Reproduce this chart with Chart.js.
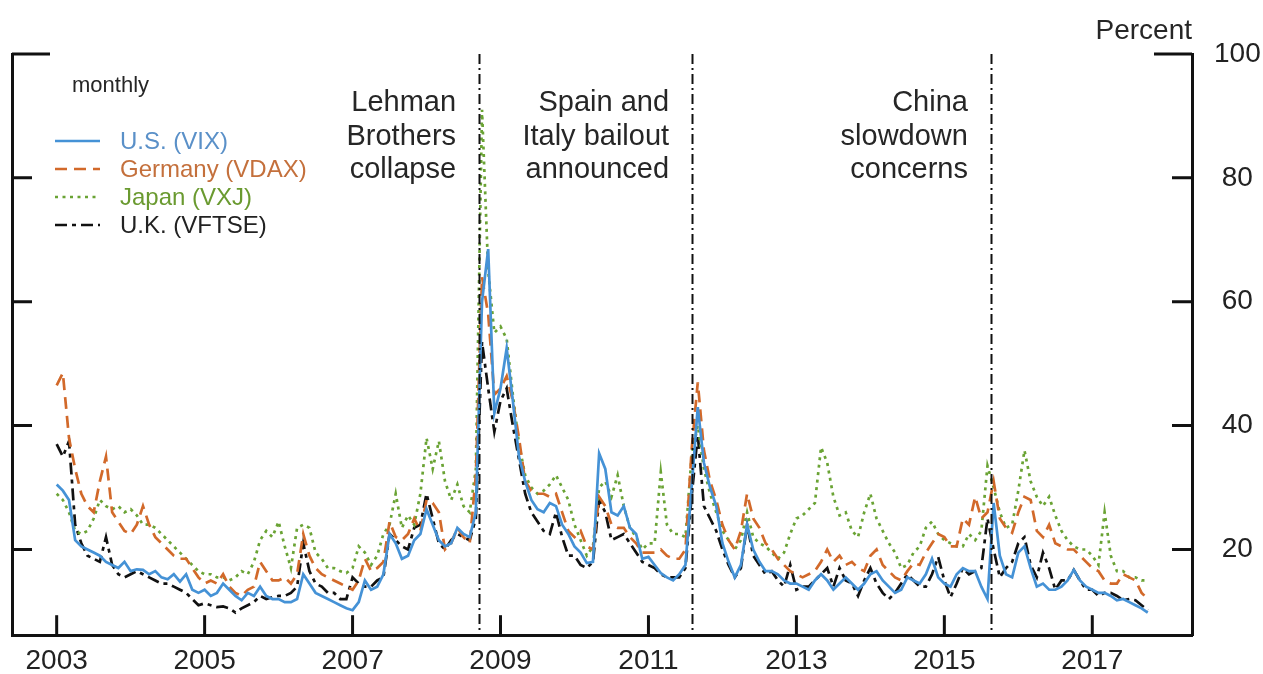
<!DOCTYPE html>
<html>
<head>
<meta charset="utf-8">
<script src="https://cdn.jsdelivr.net/npm/chart.js@4.4.1/dist/chart.umd.min.js"></script>
<style>
  html, body { margin: 0; padding: 0; background: #fff; }
  #wrap { width: 1263px; height: 674px; position: relative; }
</style>
</head>
<body>
<div id="wrap"><canvas id="vol"></canvas></div>
<script>
// monthly implied volatility, Jan 2003 .. Oct 2017
const startYear = 2003;

const us = [
  30.5, 29.5, 28, 21.5, 20.5, 20, 19.5, 19, 18, 17.5, 17, 18,
  16.5, 16.8, 16.7, 16, 16.5, 15.5, 15.2, 16, 14.8, 16, 13.5, 13,
  13.5, 12.5, 13, 14.5, 13.5, 12.5, 11.8, 13, 12.5, 14, 12.5, 12,
  12, 11.5, 11.5, 12, 16, 14.5, 13, 12.5, 12, 11.5, 11, 10.5,
  10.2, 11.5, 15, 13.5, 14, 16, 22.5, 21, 18.5, 19, 21.5, 22.5,
  26.5, 24, 21.5, 20.5, 21, 23.5, 22.5, 22, 26, 60, 68.5, 42,
  46, 52.5, 44, 35, 31, 28, 26.5, 26, 27.5, 27, 24, 22.5,
  20.5, 19.5, 17.8, 18, 35.5, 33, 26, 25.5, 27, 23.5, 22.5, 18.5,
  18.8, 17.5, 16.2, 15.5, 15, 16, 17.5, 30, 43, 34, 30, 27,
  21, 18, 15.5, 17.5, 24, 20, 18, 16.5, 16.5, 16, 15, 14.5,
  14.5, 14, 13.5, 15, 16, 15, 13.5, 14.5, 15.5, 14.5, 13.5, 14.5,
  16, 16.5, 15, 14, 13, 13.5, 15.5, 15, 14.5, 16, 18.5, 15.5,
  14.5, 14, 16, 17, 16.5, 16.5, 14, 12, 27.5, 19, 16, 15.5,
  19.5, 20.5, 17, 14, 14.5, 13.5, 13.5, 14, 15, 16.7, 15, 14,
  13.5, 13, 13, 12.5, 11.8, 12, 11.5, 11, 10.5, 9.8
];

const germany = [
  46.5, 48.5, 38, 33, 29, 27, 26, 31, 35, 26, 24.5, 23,
  22.5, 24, 27, 24, 22, 21, 20, 19, 18.5, 18.5, 17, 15.5,
  14.5, 15, 14.5, 16, 14, 13, 12.5, 13.5, 14, 18, 16.5, 15,
  15, 15.5, 14.5, 16, 22.5, 19, 17, 16, 15.5, 15, 14.5, 14,
  13.5, 15, 18.5, 16.5, 17, 18, 24.5, 22, 21.5, 22.5, 25, 23,
  28, 27.5, 26, 20, 21, 23.5, 22, 21, 32, 64, 58, 45,
  46, 48, 44, 38, 31, 29.5, 29, 29, 28.5, 29, 26, 23,
  22, 23, 20.5, 20, 28.5, 27, 24, 23.5, 23.5, 22, 21, 19.5,
  19.5, 19.5, 20, 19, 18.5, 18.5, 20, 36, 47, 36, 31, 28,
  24, 21.5, 20, 23, 29, 25, 23.5, 21, 20, 18.5, 17.5, 16.5,
  16, 15.5, 16, 16.5, 18, 20, 18, 19, 17.5, 18, 17, 16.5,
  19, 20, 17.5, 16.5, 15.5, 15, 16.5, 17.8, 17.5, 19.5, 21, 22.5,
  22, 20.5, 20.5, 25, 24, 28.5, 25, 26, 31, 25, 23.5, 22.7,
  26, 28.5, 28, 23, 22, 24, 21, 20.5, 20, 20, 19, 18,
  17, 16.5, 15, 14.5, 14.5, 16, 15.5, 15, 13, 12
];

const japan = [
  29, 28, 26, 23, 22.5, 23, 25, 28, 27, 26.5, 27, 26,
  26.5, 25.5, 24, 24, 23.5, 22.5, 21.5, 20.5, 19.5, 18.5, 17.5, 16.5,
  16, 16, 15.5, 15.5, 15, 15.5, 16.5, 16, 18, 21.5, 23, 22,
  24.5, 20.5, 17, 23.5, 24, 23.5, 19.5, 18.5, 17, 17, 16.5, 16.2,
  17, 20.5, 19.5, 17.5, 19, 22.5, 24, 29, 23.5, 25.5, 24, 29,
  38, 33, 37.5, 31, 28, 30.5, 27, 26, 33, 91, 65, 55,
  56, 54, 45, 37, 32, 30, 29, 29.5, 30.5, 32, 30, 28,
  24, 21.5, 19, 20.5, 30, 31, 28.5, 32, 27, 23.5, 22, 20,
  21, 21, 32.5, 24, 22.5, 22.5, 22, 35, 40, 33, 29, 26,
  23, 21.5, 20, 21.5, 26, 22, 21, 20.5, 19.5, 18.5, 19.5, 22.5,
  25, 25.5, 26.5, 27.5, 36.5, 34, 28.5, 25.5, 26, 23, 22, 26,
  29, 25, 23, 21, 19.5, 17, 17.5, 19.5, 20.5, 23.5, 24.5, 22.5,
  21.5, 21, 20.5, 20.5, 22.5, 21.5, 23, 33.5, 30, 26, 23.5, 24,
  29.5, 36, 31, 28.5, 27, 28.5, 25.5, 23, 21.5, 20.5, 20, 20,
  19, 17.5, 26, 19, 16.5, 16.5, 15.5, 15.5, 15, 15
];

const uk = [
  37, 35, 37.5, 24, 21, 19, 18.5, 18, 22, 17.5, 16, 15.5,
  16, 16.5, 16, 15.5, 15, 14.5, 14.5, 14, 13.5, 13, 12, 11,
  11.3, 11, 10.7, 10.8, 10.5, 9.8, 10.5, 11, 11.5, 12.5, 12, 12.3,
  12.5, 12.5, 13, 14, 21, 16.5, 14.5, 14, 13, 13, 12, 12,
  15.5, 14.5, 14, 14, 15, 15.5, 22.5, 21.5, 20.5, 20, 23.5, 24,
  29, 25, 21, 20, 21.5, 22.5, 22, 21.5, 25, 53.5, 46, 39,
  44, 46, 40, 34.5, 29, 26, 24.5, 23, 22.5, 26, 22, 19,
  19, 17.5, 17, 18, 28, 26, 21.5, 22, 22.5, 21, 19.5, 18,
  17.5, 17, 16, 15.5, 15.5, 15.5, 17, 28.5, 38.5, 27, 25, 23,
  20, 17.5, 15.5, 17, 24, 19, 17.5, 16, 16.5, 15, 14, 17.5,
  13.5, 14, 14, 15, 16, 17, 14, 17, 15, 14.5, 12.5, 15,
  17, 14.5, 13, 12, 13, 14.5, 16, 15, 14, 14, 16, 18.8,
  15, 12.3, 14.5, 17, 16, 16.5, 17, 25, 20, 15.5, 17, 18,
  21, 22, 17.5, 15.5, 19.5, 17, 13.5, 15, 15, 16.7, 15, 13.5,
  13.5, 12.5, 13, 13, 12.5, 11.8, 12, 11.8, 11, 10.2
];

const seriesNames = ["U.S. (VIX)", "Germany (VDAX)", "Japan (VXJ)", "U.K. (VFTSE)"];
const xTicks = [2003, 2005, 2007, 2009, 2011, 2013, 2015, 2017];
const yTicks = [20, 40, 60, 80, 100];
const eventDates = [2008.71, 2011.59, 2015.63];
const eventText = [
  ["Lehman", "Brothers", "collapse"],
  ["Spain and", "Italy bailout", "announced"],
  ["China", "slowdown", "concerns"]
];

const FONT = "'Liberation Sans', Arial, Helvetica, sans-serif";

function toPoints(values) {
  return values.map((v, i) => ({ x: startYear + i / 12, y: v }));
}

const styles = [
  { color: "#4592d6", text: "#5a90c8", dash: [] },
  { color: "#d2692a", text: "#c4703c", dash: [12, 7] },
  { color: "#6aa334", text: "#6a9a30", dash: [3, 4.5] },
  { color: "#111111", text: "#222222", dash: [12, 5, 4, 5] }
];

const datasets = [us, germany, japan, uk].map((vals, k) => ({
  label: seriesNames[k],
  data: toPoints(vals),
  borderColor: styles[k].color,
  borderDash: styles[k].dash,
  borderWidth: 2.7,
  pointRadius: 0,
  tension: 0,
  fill: false
}));

const frameBits = {
  id: "frameBits",
  afterDatasetsDraw(chart) {
    const { ctx, chartArea: a, scales } = chart;
    const x = scales.x, y = scales.y;
    ctx.save();

    // event lines
    ctx.strokeStyle = "#111";
    ctx.lineWidth = 2;
    ctx.setLineDash([10, 4, 2, 4]);
    eventDates.forEach(d => {
      const px = Math.round(x.getPixelForValue(d)) + 0.5;
      ctx.beginPath();
      ctx.moveTo(px, a.top);
      ctx.lineTo(px, a.bottom);
      ctx.stroke();
    });
    ctx.setLineDash([]);

    // inward tick marks
    ctx.lineWidth = 3;
    x.ticks.forEach(t => {
      const px = x.getPixelForValue(t.value);
      ctx.beginPath();
      ctx.moveTo(px, a.bottom);
      ctx.lineTo(px, a.bottom - 20);
      ctx.stroke();
    });
    y.ticks.forEach(t => {
      const py = y.getPixelForValue(t.value);
      const len = t.value === 100 ? 38 : 20;
      ctx.beginPath();
      ctx.moveTo(a.left, py);
      ctx.lineTo(a.left + len, py);
      ctx.moveTo(a.right, py);
      ctx.lineTo(a.right - len, py);
      ctx.stroke();
    });

    // event labels
    ctx.fillStyle = "#262626";
    ctx.font = "29px " + FONT;
    ctx.textAlign = "right";
    ctx.textBaseline = "alphabetic";
    eventDates.forEach((d, k) => {
      const px = x.getPixelForValue(d) - 23;
      eventText[k].forEach((line, j) => {
        ctx.fillText(line, px, 111 + j * 33.5);
      });
    });

    // unit label
    ctx.font = "28px " + FONT;
    ctx.fillText("Percent", a.right, 39);

    // legend
    ctx.textAlign = "left";
    ctx.font = "22px " + FONT;
    ctx.fillText("monthly", 72, 92);
    ctx.font = "24px " + FONT;
    ctx.textBaseline = "middle";
    chart.data.datasets.forEach((ds, k) => {
      const ly = 141 + k * 28;
      ctx.strokeStyle = ds.borderColor;
      ctx.lineWidth = 2.7;
      ctx.setLineDash(ds.borderDash);
      ctx.beginPath();
      ctx.moveTo(55, ly);
      ctx.lineTo(100, ly);
      ctx.stroke();
      ctx.setLineDash([]);
      ctx.fillStyle = styles[k].text;
      ctx.fillText(ds.label, 120, ly + 1);
    });

    ctx.restore();
  }
};

window.onload = () => {
  new Chart(document.getElementById("vol"), {
    type: "line",
    data: { datasets: datasets },
    plugins: [frameBits],
    options: {
      responsive: true,
      maintainAspectRatio: false,
      animation: false,
      layout: { padding: { left: 12, top: 54, right: 0, bottom: 0 } },
      plugins: { legend: { display: false }, tooltip: { enabled: false } },
      scales: {
        x: {
          type: "linear",
          min: 2002.396,
          max: 2018.348,
          afterBuildTicks: s => { s.ticks = xTicks.map(v => ({ value: v })); },
          afterFit: s => { s.height = 37; },
          grid: { display: false, drawTicks: false },
          border: { display: true, color: "#111", width: 3 },
          ticks: {
            autoSkip: false, maxRotation: 0, padding: 9, color: "#222",
            font: { size: 28, family: FONT },
            callback: v => String(v)
          }
        },
        y: {
          type: "linear",
          position: "right",
          min: 6.16,
          max: 100,
          afterBuildTicks: s => { s.ticks = yTicks.map(v => ({ value: v })); },
          afterFit: s => { s.width = 71; },
          grid: { display: false, drawTicks: false },
          border: { display: true, color: "#111", width: 3 },
          ticks: {
            crossAlign: "center", padding: 22, color: "#222",
            font: { size: 28, family: FONT },
            callback: v => String(v)
          }
        },
        yLeft: {
          type: "linear",
          position: "left",
          min: 6.16,
          max: 100,
          afterFit: s => { s.width = 0; },
          grid: { display: false, drawTicks: false },
          border: { display: true, color: "#111", width: 3 },
          ticks: { display: false }
        }
      }
    }
  });
};
</script>
</body>
</html>
